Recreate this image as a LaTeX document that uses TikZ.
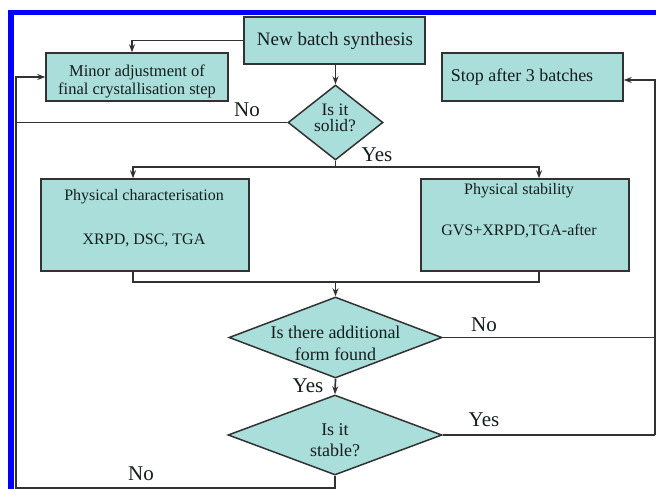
\documentclass[tikz,border=0pt]{standalone}
\usepackage{fontspec}
\setmainfont{Liberation Serif}
\usetikzlibrary{shapes.geometric,arrows.meta}
\definecolor{boxfill}{RGB}{170,222,218}
\definecolor{edge}{RGB}{50,50,50}
\definecolor{ink}{RGB}{20,30,30}
\definecolor{frameblue}{RGB}{0,0,255}
\begin{document}
\begin{tikzpicture}[x=1pt,y=-1pt,
  box/.style={draw=edge,fill=boxfill,line width=1.5pt,inner sep=0pt},
  dia/.style={diamond,draw=edge,fill=boxfill,line width=1.5pt,inner sep=0pt},
  txt/.style={text=ink,align=center,inner sep=0pt},
  lab/.style={text=ink,inner sep=0pt,font=\fontsize{21}{24}\selectfont},
  conn/.style={draw=edge,line width=1.7pt},
  arr/.style={conn,-{Stealth[length=8pt,width=6pt]}}]
\useasboundingbox (0,0) rectangle (656,489);
\fill[white] (0,0) rectangle (656,489);
\draw[frameblue,line width=5.5pt] (11,489) -- (11,12.5) -- (656,12.5);

% boxes
\node[box,minimum width=181pt,minimum height=47pt] (new) at (334.5,40.5) {};
\node[box,minimum width=182pt,minimum height=48pt] (minor) at (137,77) {};
\node[box,minimum width=181pt,minimum height=48pt] (stop) at (532.5,77) {};
\node[box,minimum width=208pt,minimum height=92pt] (char) at (145,225) {};
\node[box,minimum width=208pt,minimum height=92pt] (stab) at (525,225) {};
% diamonds
\node[dia,minimum width=95pt,minimum height=75pt] (solid) at (335.5,122.5) {};
\node[dia,minimum width=213pt,minimum height=81pt] (add) at (335.5,337.5) {};
\node[dia,minimum width=214pt,minimum height=80pt] (stable) at (335,435) {};

% texts
\node[txt,font=\fontsize{19}{22}\selectfont] (tnew) at (335,41) {New batch synthesis};
\node[txt,font=\fontsize{16.5}{18}\selectfont] (tminor) at (137,81) {Minor adjustment of\\final crystallisation step};
\node[txt,font=\fontsize{18}{21}\selectfont] (tstop) at (522,77) {Stop after 3 batches};
\node[txt,font=\fontsize{16}{19}\selectfont] (tchar1) at (144,197) {Physical characterisation};
\node[txt,font=\fontsize{16}{19}\selectfont] (tchar2) at (144,240) {XRPD, DSC, TGA};
\node[txt,font=\fontsize{16}{19}\selectfont] (tstab1) at (519,191) {Physical stability};
\node[txt,font=\fontsize{16}{19}\selectfont] (tstab2) at (519,231) {GVS+XRPD,TGA-after};
\node[txt,font=\fontsize{17.5}{16}\selectfont] (tsolid) at (335,118) {Is it\\solid?};
\node[txt,font=\fontsize{18}{22}\selectfont] (tadd) at (335.5,343) {Is there additional\\form found};
\node[txt,font=\fontsize{18}{21}\selectfont] (tstable) at (335,440) {Is it\\stable?};

% labels
\node[lab] (lno1) at (247,110) {No};
\node[lab] (lyes1) at (377,155) {Yes};
\node[lab] (lno2) at (484,325) {No};
\node[lab] (lyes2) at (308,386) {Yes};
\node[lab] (lyes3) at (484,420) {Yes};
\node[lab] (lno3) at (141,474) {No};

% helper coordinates
\coordinate (lt) at (16,77);
\coordinate (lb) at (16,488);
\coordinate (rt) at (655,80);
\coordinate (rb) at (655,435);
\coordinate (yj) at (335.5,167);
\coordinate (bj) at (335.5,282);

% connectors
\draw[arr] (new.west) -| ([xshift=-5pt]minor.north);
\draw[arr] (new.south -| solid.north) -- (solid.north);
\draw[conn] (solid.west) -- (solid.west -| lt);
\draw[conn] (solid.south) -- (yj);
\draw[arr] (yj) -| ([xshift=-12pt]char.north);
\draw[arr] (yj) -| ([xshift=14pt]stab.north);
\draw[conn] ([xshift=-12pt]char.south) |- (bj) -| ([xshift=14pt]stab.south);
\draw[arr] (bj) -- (add.north);
\draw[arr] (add.south) -- (stable.north);
\draw[conn] (add.east) -- (add.east -| rb);
\draw[conn] (stable.east) -- (rb);
\draw[arr] (rb) -- (rt) -- (stop.east |- rt);
\draw[arr] (stable.south) |- (lb) -- (lt) -- (minor.west);
\end{tikzpicture}
\end{document}
